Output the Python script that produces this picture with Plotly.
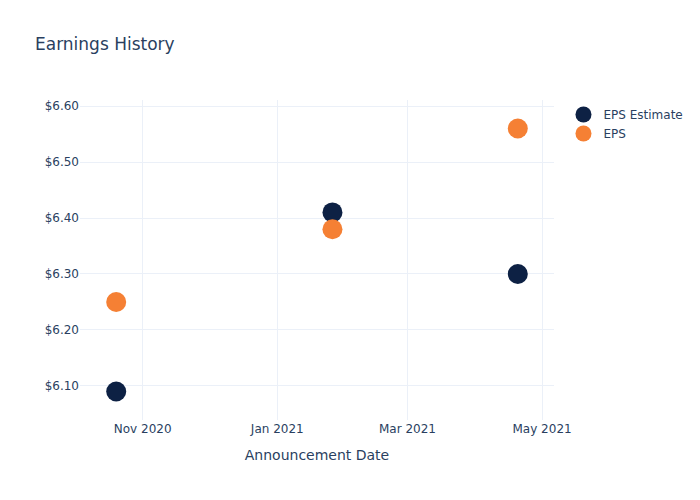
import plotly.graph_objects as go

dates = ["2020-10-20", "2021-01-26", "2021-04-20"]
eps_estimate = [6.09, 6.41, 6.30]
eps_actual = [6.25, 6.38, 6.56]

fig = go.Figure()
fig.add_trace(go.Scatter(x=dates, y=eps_estimate, mode="markers", name="EPS Estimate",
                         marker=dict(size=20, color="#0d2144")))
fig.add_trace(go.Scatter(x=dates, y=eps_actual, mode="markers", name="EPS",
                         marker=dict(size=20, color="#f58034")))
fig.update_layout(
    template="plotly_white",
    width=700, height=500,
    font=dict(family="DejaVu Sans"),
    title=dict(text="Earnings History"),
    xaxis=dict(title=dict(text="Announcement Date")),
    yaxis=dict(tickformat="$.2f"),
)
fig.write_html("out.html")
